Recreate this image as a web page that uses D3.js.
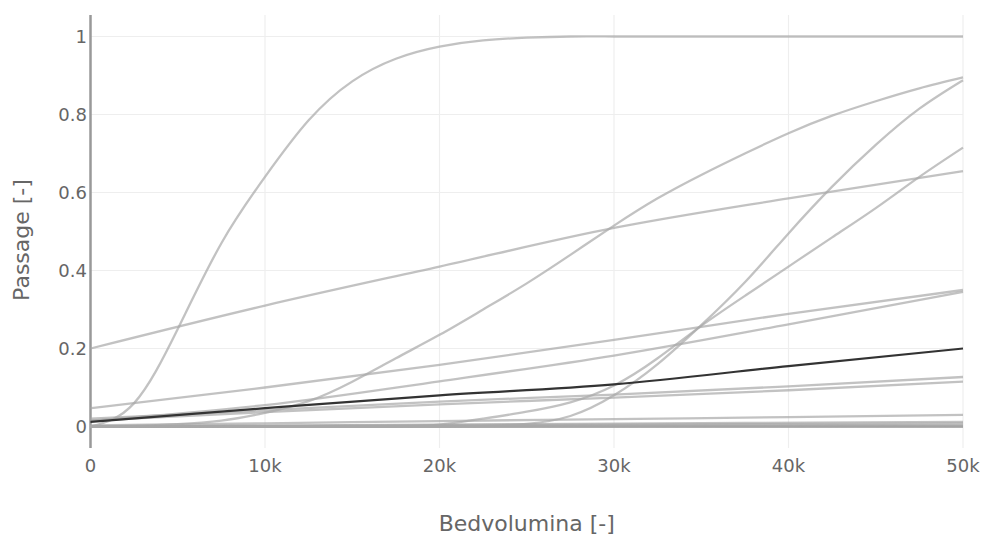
<!DOCTYPE html>
<html><head><meta charset="utf-8">
<script src="https://cdn.jsdelivr.net/npm/d3@7"></script>
<style>body{margin:0;background:#fff}svg{display:block}</style>
</head><body><svg id="c" width="984" height="539"></svg>
<script>
// x grids (Bedvolumina)
const xFine = [0,2500,5000,7500,10000,12500,15000,17500,20000,22500,25000,27500,30000,32500,35000,37500,40000,42500,45000,47500,50000];
const xMid = [0,10000,20000,30000,40000,50000];
const xFlat = [0,25000,50000];
// series values (Passage)
const sigFast  = [0,0.06,0.25,0.47,0.64,0.785,0.885,0.943,0.974,0.99,0.997,1,1,1,1,1,1,1,1,1,1];
const sigMid   = [0,0.002,0.006,0.015,0.035,0.065,0.115,0.175,0.235,0.3,0.367,0.44,0.515,0.585,0.645,0.7,0.752,0.797,0.834,0.867,0.895];
const sigLate  = [0,0,0,0,0,0,0,0,0,0.001,0.007,0.027,0.08,0.16,0.26,0.37,0.495,0.615,0.722,0.815,0.888];
const sigSlow  = [0,0,0,0,0,0,0,0,0.005,0.02,0.038,0.062,0.105,0.175,0.258,0.335,0.41,0.485,0.56,0.64,0.715];
const linHigh  = [0.2,0.31,0.41,0.509,0.585,0.655];
const linA     = [0.047,0.1,0.158,0.222,0.289,0.35];
const linB     = [0.015,0.055,0.116,0.182,0.262,0.345];
const lin9     = [0.02,0.042,0.064,0.082,0.103,0.127];
const lin10    = [0.015,0.037,0.057,0.074,0.093,0.115];
const lin11    = [0.003,0.008,0.014,0.019,0.024,0.03];
const highlight= [0.012,0.047,0.08,0.108,0.155,0.2];
const flat1 = [0,0.006,0.012];
const flat2 = [0,0.004,0.008];
const flat3 = [0,0.002,0.004];
const flat4 = [0,0,0.001];
const xTicks = [0,10000,20000,30000,40000,50000];
const xTickLabels = ["0","10k","20k","30k","40k","50k"];
const yTicks = [0,0.2,0.4,0.6,0.8,1];
const yTickLabels = ["0","0.2","0.4","0.6","0.8","1"];

const greySeries = [
  [xFine,sigFast],[xFine,sigMid],[xFine,sigLate],[xFine,sigSlow],
  [xMid,linHigh],[xMid,linA],[xMid,linB],[xMid,lin9],[xMid,lin10],[xMid,lin11],
  [xFlat,flat1],[xFlat,flat2],[xFlat,flat3],[xFlat,flat4]
];

const svg = d3.select("#c");
const L=90.5, R=963, T=15, B=448;
const x = d3.scaleLinear().domain([0,50000]).range([L,R]);
const y = d3.scaleLinear().domain([-0.0551,1.0551]).range([B,T]);
const font = "'DejaVu Sans', Verdana, sans-serif";

// grid
svg.append("g").selectAll("line").data(xTicks.slice(1)).join("line")
  .attr("x1",d=>x(d)).attr("x2",d=>x(d)).attr("y1",T).attr("y2",B)
  .attr("stroke","#eee").attr("stroke-width",1.2);
svg.append("g").selectAll("line").data(yTicks.slice(1)).join("line")
  .attr("x1",L).attr("x2",R).attr("y1",d=>y(d)).attr("y2",d=>y(d))
  .attr("stroke","#eee").attr("stroke-width",1.2);

// zero lines
svg.append("line").attr("x1",x(0)).attr("x2",x(0)).attr("y1",T).attr("y2",B)
  .attr("stroke","#999").attr("stroke-width",2.5);
svg.append("line").attr("x1",L).attr("x2",R).attr("y1",y(0)).attr("y2",y(0))
  .attr("stroke","#999").attr("stroke-width",2.5);

const line = (xs)=>d3.line().x((d,i)=>x(xs[i])).y(d=>y(d))
  .curve(xs.length>10 ? d3.curveNatural : d3.curveMonotoneX);

svg.append("g").selectAll("path").data(greySeries).join("path")
  .attr("d",d=>line(d[0])(d[1]))
  .attr("fill","none").attr("stroke","#a8a8a8").attr("stroke-opacity",0.7)
  .attr("stroke-width",2.3);

svg.append("path").attr("d",line(xMid)(highlight))
  .attr("fill","none").attr("stroke","#333").attr("stroke-width",2.2);

// tick labels
svg.append("g").selectAll("text").data(xTicks).join("text")
  .attr("x",d=>x(d)).attr("y",472).attr("text-anchor","middle")
  .attr("font-family",font).attr("font-size",18).attr("fill","#666")
  .text((d,i)=>xTickLabels[i]);
svg.append("g").selectAll("text").data(yTicks).join("text")
  .attr("x",87).attr("y",d=>y(d)).attr("dy","0.36em").attr("text-anchor","end")
  .attr("font-family",font).attr("font-size",18).attr("fill","#666")
  .text((d,i)=>yTickLabels[i]);

// titles
svg.append("text").attr("x",(L+R)/2).attr("y",531).attr("text-anchor","middle")
  .attr("font-family",font).attr("font-size",22).attr("fill","#666")
  .text("Bedvolumina [-]");
svg.append("text").attr("transform","translate(29,240) rotate(-90)").attr("text-anchor","middle")
  .attr("font-family",font).attr("font-size",22).attr("fill","#666")
  .text("Passage [-]");
</script></body></html>
